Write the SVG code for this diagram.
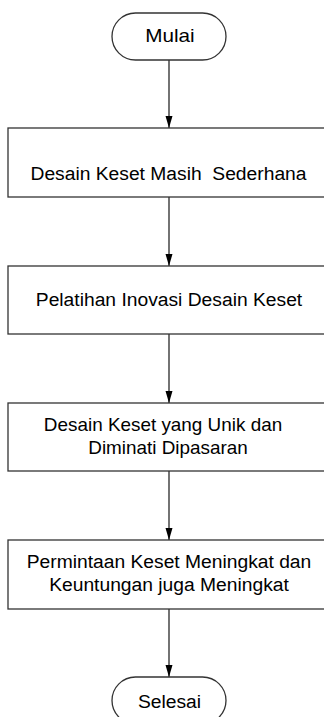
<svg xmlns="http://www.w3.org/2000/svg" width="324" height="717" viewBox="0 0 324 717">
<defs>
<marker id="ah" markerUnits="userSpaceOnUse" markerWidth="12" markerHeight="8" refX="12" refY="3.5" orient="auto" viewBox="0 0 12 7">
<path d="M0,0 L12,3.5 L0,7 Z" fill="#000"/>
</marker>
<style>
.shape{fill:#fff;stroke:#333;stroke-width:1.3}
.lbl{font-family:"Liberation Sans",Arial,sans-serif;font-size:18px;fill:#000;text-anchor:middle;white-space:pre}
.conn{stroke:#000;stroke-width:1.1;fill:none}
</style>
</defs>
<rect width="324" height="717" fill="#fff"/>
<g id="connectors">
<line class="conn" x1="169" y1="60" x2="169" y2="128" marker-end="url(#ah)"/>
<line class="conn" x1="169" y1="197" x2="169" y2="266" marker-end="url(#ah)"/>
<line class="conn" x1="169" y1="334" x2="169" y2="403" marker-end="url(#ah)"/>
<line class="conn" x1="169" y1="471" x2="169" y2="540" marker-end="url(#ah)"/>
<line class="conn" x1="169" y1="609" x2="169" y2="677" marker-end="url(#ah)"/>
</g>
<g id="mulai">
<rect class="shape" x="112" y="13" width="114" height="47" rx="23.5" ry="23.5"/>
<text class="lbl" transform="translate(170,42) scale(1.15,1)">Mulai</text>
</g>
<g id="step1">
<rect class="shape" x="8" y="128" width="322" height="69"/>
<text class="lbl" xml:space="preserve" transform="translate(168.5,179.5) scale(1.07,1)">Desain Keset Masih  Sederhana</text>
</g>
<g id="step2">
<rect class="shape" x="8" y="266" width="322" height="68"/>
<text class="lbl" transform="translate(169,306) scale(1.07,1)">Pelatihan Inovasi Desain Keset</text>
</g>
<g id="step3">
<rect class="shape" x="8" y="403" width="322" height="68"/>
<text class="lbl" transform="translate(163,431) scale(1.05,1)">Desain Keset yang Unik dan</text>
<text class="lbl" transform="translate(168,454) scale(1.05,1)">Diminati Dipasaran</text>
</g>
<g id="step4">
<rect class="shape" x="8" y="540" width="322" height="69"/>
<text class="lbl" transform="translate(169,568) scale(1.07,1)">Permintaan Keset Meningkat dan</text>
<text class="lbl" transform="translate(169,591) scale(1.07,1)">Keuntungan juga Meningkat</text>
</g>
<g id="selesai">
<rect class="shape" x="112" y="677" width="114" height="47" rx="23.5" ry="23.5"/>
<text class="lbl" transform="translate(169.5,707.5) scale(1.07,1)">Selesai</text>
</g>
</svg>
